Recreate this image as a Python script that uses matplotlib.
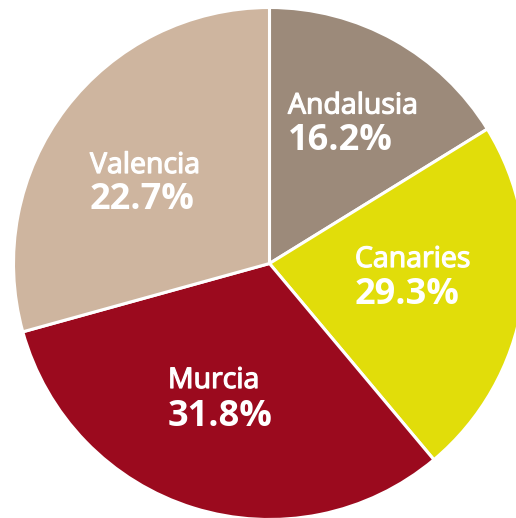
import matplotlib
matplotlib.use("Agg")
import matplotlib.pyplot as plt
import matplotlib.patheffects as pe

regions = ["Andalusia", "Canaries", "Murcia", "Valencia"]
# slice sizes as drawn in the picture (clockwise from 12 o'clock)
shares = [16.2, 22.7, 31.8, 29.3]
# percentage labels as printed in the picture
pct_labels = ["16.2%", "29.3%", "31.8%", "22.7%"]
colors = ["#9C8A7A", "#E1DD0A", "#9B0A1E", "#CEB59F"]

W, H = 516, 518
fig = plt.figure(figsize=(W / 100, H / 100), dpi=100)
ax = fig.add_axes([0, 0, 1, 1])

cx, cy, r = 269.5, H - 263.5, 256
ax.pie(shares, colors=colors, startangle=90, counterclock=False,
       center=(cx, cy), radius=r, frame=True,
       wedgeprops=dict(edgecolor="white", linewidth=2.2))
ax.set_xlim(0, W)
ax.set_ylim(0, H)
ax.set_aspect("equal")
ax.axis("off")

semi = [pe.withStroke(linewidth=0.9, foreground="white")]
# label anchor positions (pixel coords: left x, name baseline, pct baseline)
label_pos = [(288, 113.5, 149.5), (355, 267, 303.5), (168, 388, 426), (90, 173, 209)]
for name, pct, (x, yn, yp) in zip(regions, pct_labels, label_pos):
    ax.text(x, H - yn, name, ha="left", va="baseline", color="white",
            fontsize=20.5, family="Open Sans", path_effects=semi)
    ax.text(x, H - yp, pct, ha="left", va="baseline", color="white",
            fontsize=26, fontweight="bold", family="Open Sans")

fig.savefig("out.png", dpi=100)
